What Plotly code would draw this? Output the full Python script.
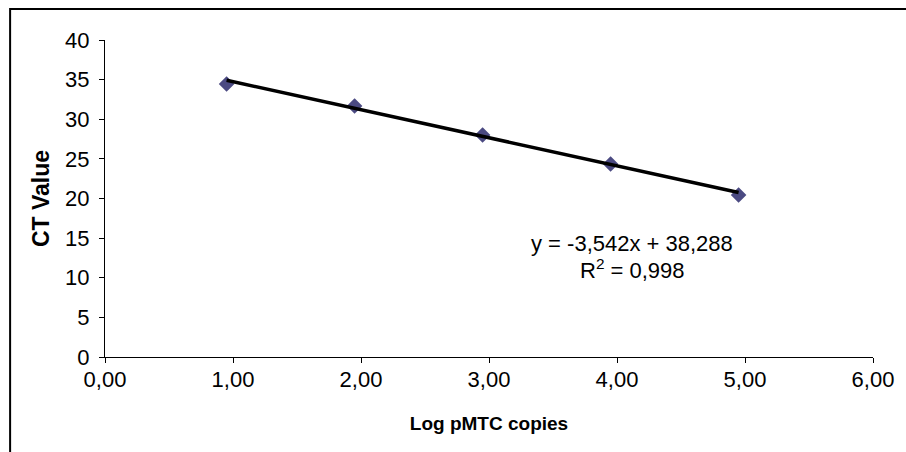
import plotly.graph_objects as go

# Data
log_copies = [0.95, 1.95, 2.95, 3.95, 4.95]
ct_values = [34.45, 31.67, 28.01, 24.35, 20.44]
slope = -3.542
intercept = 38.288
r_squared = 0.998

x_ticks = [0, 1, 2, 3, 4, 5, 6]
y_ticks = [0, 5, 10, 15, 20, 25, 30, 35, 40]

FONT = "Liberation Sans, Arial, sans-serif"

x_fit = [min(log_copies), max(log_copies)]
y_fit = [slope * v + intercept for v in x_fit]

fig = go.Figure()
fig.add_trace(go.Scatter(
    x=log_copies, y=ct_values, mode="markers",
    marker=dict(symbol="diamond", size=12, color="#4b4a82",
                line=dict(width=0)),
    showlegend=False, cliponaxis=False,
))
fig.add_trace(go.Scatter(
    x=x_fit, y=y_fit, mode="lines",
    line=dict(color="black", width=3.5),
    showlegend=False, cliponaxis=False,
))

def fmt(v, nd):
    return f"{v:.{nd}f}".replace(".", ",")

eq_text = f"y = {fmt(slope, 3)}x + {fmt(intercept, 3)}"
r2_text = f"R<sup>2</sup> = {fmt(r_squared, 3)}"

fig.add_annotation(x=4.12, y=14.35, xref="x", yref="y", text=eq_text,
                   showarrow=False, xanchor="center", yanchor="middle",
                   font=dict(family=FONT, size=22, color="black"))
fig.add_annotation(x=4.12, y=11.15, xref="x", yref="y", text=r2_text,
                   showarrow=False, xanchor="center", yanchor="middle",
                   font=dict(family=FONT, size=22, color="black"))

# Figure geometry (page body margin removed so the figure fills the window)
L, R, T, B = 105, 24, 40, 95
W, H = 906, 452
pw, ph = W - L - R, H - T - B
def px_to_paper_x(p):
    return (p - L) / pw
def px_to_paper_y(p):
    return 1 - (p - T) / ph

# Outer chart border (cropped at right and bottom in the reference)
fig.add_shape(type="rect", xref="paper", yref="paper",
              x0=px_to_paper_x(9), x1=px_to_paper_x(920),
              y0=px_to_paper_y(470), y1=px_to_paper_y(9),
              line=dict(color="black", width=2), fillcolor="rgba(0,0,0,0)",
              layer="above")

fig.update_layout(
    width=W, height=H,
    margin=dict(l=L, r=R, t=T, b=B),
    paper_bgcolor="white", plot_bgcolor="white",
    separators=",.",
    font=dict(family=FONT, size=22, color="black"),
    xaxis=dict(
        range=[0, 6], tickvals=x_ticks, tickformat=".2f",
        showgrid=False, zeroline=False,
        showline=True, linecolor="black", linewidth=1.4,
        ticks="outside", ticklen=5, tickwidth=1.4, tickcolor="black",
        tickfont=dict(family=FONT, size=22), ticklabelstandoff=-3,
        title=dict(text="<b>Log pMTC copies</b>", font=dict(family=FONT, size=19),
                   standoff=26),
    ),
    yaxis=dict(
        range=[0, 40], tickvals=y_ticks,
        showgrid=False, zeroline=False,
        showline=True, linecolor="black", linewidth=1.4,
        ticks="outside", ticklen=5, tickwidth=1.4, tickcolor="black",
        tickfont=dict(family=FONT, size=22), ticklabelstandoff=5,
        title=dict(text="<b>CT Value</b>", font=dict(family=FONT, size=23),
                   standoff=8),
    ),
)

fig.write_html(
    "out.html",
    config={"displayModeBar": False},
    post_script="document.body.style.margin='0';document.body.style.overflow='hidden';",
)
